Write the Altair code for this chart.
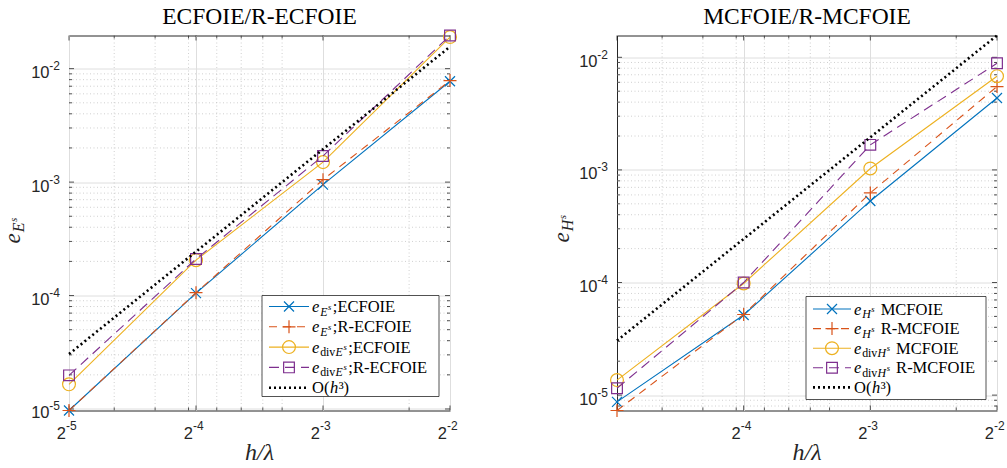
import altair as alt
import pandas as pd

# ---------------- data ----------------
H_VALUES = [2 ** -5, 2 ** -4, 2 ** -3, 2 ** -2]

left_e = [9.7e-6, 1.05e-4, 9.5e-4, 7.75e-3]
left_e_r = [9.7e-6, 1.06e-4, 1.05e-3, 7.85e-3]
left_div = [1.65e-5, 2.05e-4, 1.5e-3, 1.90e-2]
left_div_r = [1.98e-5, 2.1e-4, 1.7e-3, 1.96e-2]
left_ref = [3.05e-5, 2.44e-4, 1.95e-3, 1.5625e-2]

right_e = [8.7e-6, 5.15e-5, 5.3e-4, 4.35e-3]
right_e_r = [7.3e-6, 5.2e-5, 6.25e-4, 5.5e-3]
right_div = [1.36e-5, 9.8e-5, 1.03e-3, 6.8e-3]
right_div_r = [1.15e-5, 1.0e-4, 1.67e-3, 8.85e-3]
right_ref = [3.05e-5, 2.44e-4, 1.95e-3, 1.5625e-2]

X_MAJOR = [2 ** -5, 2 ** -4, 2 ** -3, 2 ** -2]
X_EXP = ["-5", "-4", "-3", "-2"]
X_MINOR = [0.04, 0.05, 0.06, 0.07, 0.08, 0.09, 0.1, 0.2]
Y_MAJOR = [1e-5, 1e-4, 1e-3, 1e-2]
Y_EXP = ["-5", "-4", "-3", "-2"]
Y_MINOR = [m * d for d in (1e-6, 1e-5, 1e-4, 1e-3, 1e-2) for m in range(2, 10)]

STYLES = [
    dict(color="#0072BD", dash=None, shape="M-1,-1L1,1M-1,1L1,-1", size=100),
    dict(color="#D95319", dash=[8, 6], shape="M-1,0L1,0M0,-1L0,1", size=169),
    dict(color="#EDB120", dash=None, shape="circle", size=165),
    dict(color="#7E2F8E", dash=[10, 6], shape="square", size=115),
    dict(color="#000000", dash=[2, 3], shape=None, size=0, width=2.6),
]

SERIF = "Liberation Serif"
SANS = "Liberation Sans"
AX = "#262626"

UP = {"E": .611, "C": .667, "F": .556, "O": .722, "I": .333, "R": .667, "-": .333,
      "M": .889, ";": .278, " ": .25, "d": .5, "i": .278, "v": .5, "(": .333,
      ")": .333, "³": .3, "h": .5, "/": .278}
IT = {"e": .444, "E": .611, "H": .722, "s": .389, "h": .5}


def width(text, size, italic):
    tab = IT if italic else UP
    return sum(tab.get(ch, 0.5) for ch in text) * size


def pieces(x0, base, parts):
    """parts: (text, size, italic, baseline shift, extra gap after)"""
    rows = []
    x = x0
    for text, size, italic, dy, gap in parts:
        rows.append(dict(x=x, y=base + dy, text=text, size=size, italic=italic))
        x += width(text, size, italic) + gap
    return rows


def err_label(x0, base, letter, div, suffix, gap, fs=16.5):
    sub = fs * 0.72
    sup = fs * 0.52
    parts = [("e", fs, True, 0, 0.8)]
    if div:
        parts.append(("div", sub, False, 3.5, 0.3))
    parts.append((letter, sub, True, 3.5, 0.6))
    parts.append(("s", sup, True, -2.5, gap))
    parts.append((suffix, fs, False, 0, 0))
    return pieces(x0, base, parts)


def order_label(x0, base, fs=16.5):
    return pieces(x0, base, [("O(", fs, False, 0, 0.5), ("h", fs, True, 0, 0.5),
                             ("³)", fs, False, 0, 0)])


def text_layers(rows, angle=0, color="black"):
    df = pd.DataFrame(rows)
    out = []
    for italic in (True, False):
        sub = df[df["italic"] == italic]
        if len(sub) == 0:
            continue
        out.append(
            alt.Chart(sub).mark_text(font=SERIF, fontStyle="italic" if italic else "normal",
                                     align="left", baseline="alphabetic", angle=angle,
                                     color=color)
            .encode(x=alt.X("x:Q", scale=None), y=alt.Y("y:Q", scale=None),
                    text="text:N", size=alt.Size("size:Q", scale=None))
        )
    return out


def panel(series, title, ylab_letter, legend_names, label_idx, W, H, box, line_x,
          text_x0, row_y, ylab_pos, gap):
    ymin = min(min(s) for s in series)
    ymax = max(max(s) for s in series)
    xscale = alt.Scale(type="log", base=2, domain=[H_VALUES[0], H_VALUES[-1]], nice=False, zero=False)
    yscale = alt.Scale(type="log", base=10, domain=[ymin, ymax], nice=False, zero=False)
    xaxis = alt.Axis(values=[X_MAJOR[i] for i in label_idx], grid=True, gridColor="#dedede",
                     gridWidth=1, ticks=False, domain=False, labels=False, title=None)
    yaxis = alt.Axis(values=Y_MAJOR, grid=True, gridColor="#dedede", gridWidth=1,
                     ticks=False, domain=False, labels=False, title=None)

    def X(f):
        return alt.X(f"{f}:Q", scale=xscale, axis=xaxis)

    def Y(f):
        return alt.Y(f"{f}:Q", scale=yscale, axis=yaxis)

    layers = []
    xminor = pd.DataFrame({"xv": X_MINOR})
    yminor = pd.DataFrame({"yv": [v for v in Y_MINOR if ymin < v < ymax]})
    xmajor = pd.DataFrame({"xv": X_MAJOR})
    ymajor = pd.DataFrame({"yv": [v for v in Y_MAJOR if ymin <= v <= ymax]})
    grid_kw = dict(color="#c4c4c4", strokeDash=[1, 2.5], strokeWidth=0.8)
    layers.append(alt.Chart(xminor).mark_rule(**grid_kw).encode(x=X("xv"), y=alt.value(0), y2=alt.value(H)))
    layers.append(alt.Chart(yminor).mark_rule(**grid_kw).encode(y=Y("yv"), x=alt.value(0), x2=alt.value(W)))
    tick_kw = dict(color=AX, strokeWidth=0.8)
    for df, ln in ((xmajor, 5), (xminor, 3)):
        layers.append(alt.Chart(df).mark_rule(**tick_kw).encode(x=X("xv"), y=alt.value(H), y2=alt.value(H - ln)))
        layers.append(alt.Chart(df).mark_rule(**tick_kw).encode(x=X("xv"), y=alt.value(0), y2=alt.value(ln)))
    for df, ln in ((ymajor, 5), (yminor, 3)):
        layers.append(alt.Chart(df).mark_rule(**tick_kw).encode(y=Y("yv"), x=alt.value(0), x2=alt.value(ln)))
        layers.append(alt.Chart(df).mark_rule(**tick_kw).encode(y=Y("yv"), x=alt.value(W), x2=alt.value(W - ln)))

    # tick labels (base + raised exponent)
    xl = pd.DataFrame({"xv": [X_MAJOR[i] for i in label_idx], "exp": [X_EXP[i] for i in label_idx]})
    layers.append(alt.Chart(xl).mark_text(text="2", font=SANS, fontSize=16.5, align="right",
                                          baseline="alphabetic", color=AX, dx=-3)
                  .encode(x=X("xv"), y=alt.value(H + 28)))
    layers.append(alt.Chart(xl).mark_text(font=SANS, fontSize=12, align="left",
                                          baseline="alphabetic", color=AX, dx=-3)
                  .encode(x=X("xv"), y=alt.value(H + 19.5), text="exp:N"))
    yl = pd.DataFrame({"yv": [v for v in Y_MAJOR if ymin <= v <= ymax],
                       "exp": [e for v, e in zip(Y_MAJOR, Y_EXP) if ymin <= v <= ymax]})
    layers.append(alt.Chart(yl).mark_text(text="10", font=SANS, fontSize=16.5, align="right",
                                          baseline="alphabetic", color=AX, dy=9.5)
                  .encode(y=Y("yv"), x=alt.value(-19.5)))
    layers.append(alt.Chart(yl).mark_text(font=SANS, fontSize=12, align="right",
                                          baseline="alphabetic", color=AX, dy=1.5)
                  .encode(y=Y("yv"), x=alt.value(-9), text="exp:N"))

    # data series
    for vals, st in zip(series, STYLES):
        df = pd.DataFrame({"h": H_VALUES, "err": vals})
        lkw = dict(color=st["color"], strokeWidth=st.get("width", 1.1))
        if st["dash"]:
            lkw["strokeDash"] = st["dash"]
        layers.append(alt.Chart(df).mark_line(**lkw).encode(x=X("h"), y=Y("err")))
        if st["shape"]:
            layers.append(alt.Chart(df).mark_point(shape=st["shape"], size=st["size"], filled=False,
                                                   color=st["color"], strokeWidth=1.2, opacity=1)
                          .encode(x=X("h"), y=Y("err")))

    # legend
    one = pd.DataFrame({"a": [0]})
    layers.append(alt.Chart(one).mark_rect(fill="white", stroke=AX, strokeWidth=0.8)
                  .encode(x=alt.value(box[0]), x2=alt.value(box[1]), y=alt.value(box[2]), y2=alt.value(box[3])))
    rows = []
    for i, st in enumerate(STYLES):
        ry = row_y[i]
        lkw = dict(color=st["color"], strokeWidth=st.get("width", 1.1))
        if st["dash"]:
            lkw["strokeDash"] = st["dash"]
        layers.append(alt.Chart(one).mark_rule(**lkw).encode(
            x=alt.value(line_x[0]), x2=alt.value(line_x[1]), y=alt.value(ry)))
        if st["shape"]:
            layers.append(alt.Chart(one).mark_point(shape=st["shape"], size=st["size"], filled=False,
                                                    color=st["color"], strokeWidth=1.2, opacity=1)
                          .encode(x=alt.value((line_x[0] + line_x[1]) / 2), y=alt.value(ry)))
        name = legend_names[i]
        if name is None:
            rows += order_label(text_x0, ry + 5.5)
        else:
            rows += err_label(text_x0, ry + 5.5, ylab_letter, name[0], name[1], gap)
    layers += text_layers(rows)

    # title and x-axis title
    layers.append(alt.Chart(one).mark_text(text=title, font=SERIF, fontSize=23.5, align="center",
                                           baseline="alphabetic", color="black")
                  .encode(x=alt.value(W / 2), y=alt.value(-12)))
    layers.append(alt.Chart(one).mark_text(text="h/λ", font=SERIF, fontStyle="italic", fontSize=24,
                                           align="center", baseline="alphabetic", color=AX)
                  .encode(x=alt.value(W / 2), y=alt.value(H + 49)))
    # y label (rotated)
    bx, by = ylab_pos
    yrows = []
    x = by
    yrows.append(dict(x=bx, y=x, text="e", size=23, italic=True))
    x -= width("e", 23, True) + 1
    yrows.append(dict(x=bx + 4, y=x, text=ylab_letter, size=16, italic=True))
    x -= width(ylab_letter, 16, True) + 0.5
    yrows.append(dict(x=bx - 3, y=x, text="s", size=11, italic=True))
    layers += text_layers(yrows, angle=270, color=AX)

    return alt.layer(*layers).properties(width=W, height=H)


W_L, W_R, HH = 381, 380, 375
left = panel(
    [left_e, left_e_r, left_div, left_div_r, left_ref],
    "ECFOIE/R-ECFOIE", "E",
    [(False, ";ECFOIE"), (False, ";R-ECFOIE"), (True, ";ECFOIE"), (True, ";R-ECFOIE"), None],
    [0, 1, 2, 3], W_L, HH,
    box=(193, 370, 260, 361), line_x=(200, 240), text_x0=243,
    row_y=[271, 291.3, 311.6, 331.9, 352.2], ylab_pos=(-49, 208), gap=1.5,
)
right = panel(
    [right_e, right_e_r, right_div, right_div_r, right_ref],
    "MCFOIE/R-MCFOIE", "H",
    [(False, "MCFOIE"), (False, "R-MCFOIE"), (True, "MCFOIE"), (True, "R-MCFOIE"), None],
    [1, 2, 3], W_R, HH,
    box=(189, 369, 261, 364), line_x=(196, 234), text_x0=237,
    row_y=[273.5, 293.1, 312.7, 332.3, 351.9], ylab_pos=(-48, 207), gap=6,
)

chart = (
    alt.hconcat(left, right, spacing=167, bounds="flush")
    .properties(padding={"left": 1, "top": 3.5, "right": 0, "bottom": 0}, background="white")
    .configure_view(stroke=AX, strokeWidth=1)
)
chart.save("out.html", embed_options={"renderer": "svg", "actions": False})
